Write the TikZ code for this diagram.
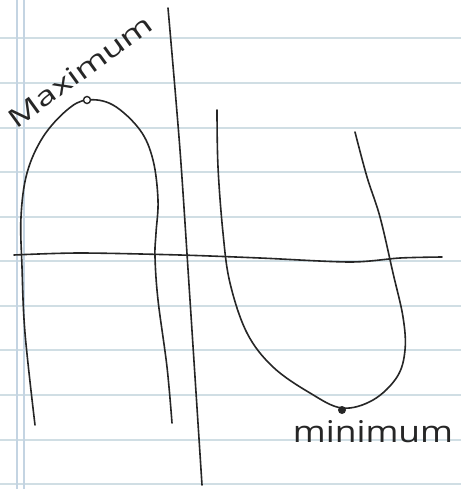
\documentclass[tikz,border=0pt]{standalone}
\usepackage{fontspec}
\setmainfont{Open Sans}
\newfontfamily\handmax[FakeStretch=1.4]{Open Sans}
\newfontfamily\handmin[FakeStretch=1.18]{Open Sans}
\begin{document}
\begin{tikzpicture}[x=1pt,y=-1pt,
  rule/.style={draw=rulecol,line width=1.6pt},
  margin/.style={draw=margcol,line width=2pt},
  ink/.style={draw=black!85,line width=1.6pt,line cap=round,line join=round},
  handtext/.style={text=black!85,inner sep=0pt}]
\definecolor{rulecol}{RGB}{208,222,228}
\definecolor{margcol}{RGB}{196,212,226}
\useasboundingbox (0,0) rectangle (461,489);
\fill[white] (0,0) rectangle (461,489);
% ruled lines
\foreach \yy in {38,83,128,172,217,261,306,350,395,440,484}
  \draw[rule] (0,\yy) -- (461,\yy);
% margin lines
\draw[margin] (17,0) -- (17,489);
\draw[margin] (24,0) -- (24,489);
% axes
\draw[ink] plot[smooth] coordinates {(14,255) (80,253) (180,255) (260,258) (350,262) (400,258) (442,257)};
\draw[ink] plot[smooth] coordinates {(168,8) (180,150) (190,300) (202,485)};
% left curve with maximum
\draw[ink] plot[smooth,tension=0.6] coordinates {(35,425) (25,333) (22,267) (21,217) (27,173) (43,137) (67,110) (87,100) (113,105) (140,130) (153,160) (158,200) (156,233) (155,257) (158,300) (167,367) (172,423)};
% right curve with minimum
\draw[ink] plot[smooth,tension=0.6] coordinates {(217,110) (218,167) (223,233) (230,283) (247,333) (273,367) (310,393) (342,408) (373,400) (397,377) (405,350) (403,317) (393,273) (380,217) (367,177) (355,132)};
% dots
\node[circle,draw=black!85,fill=white,line width=1.4pt,inner sep=0pt,minimum size=7pt] (maxpt) at (87,100) {};
\node[circle,fill=black!85,inner sep=0pt,minimum size=8pt] (minpt) at (342,410) {};
% labels
\node[handtext,font=\handmax\fontsize{26}{26}\selectfont,rotate=36] (maxlab) at (80,71) {Maximum};
\node[handtext,font=\handmin\fontsize{30}{30}\selectfont] (minlab) at (373,432) {minimum};
\end{tikzpicture}
\end{document}
